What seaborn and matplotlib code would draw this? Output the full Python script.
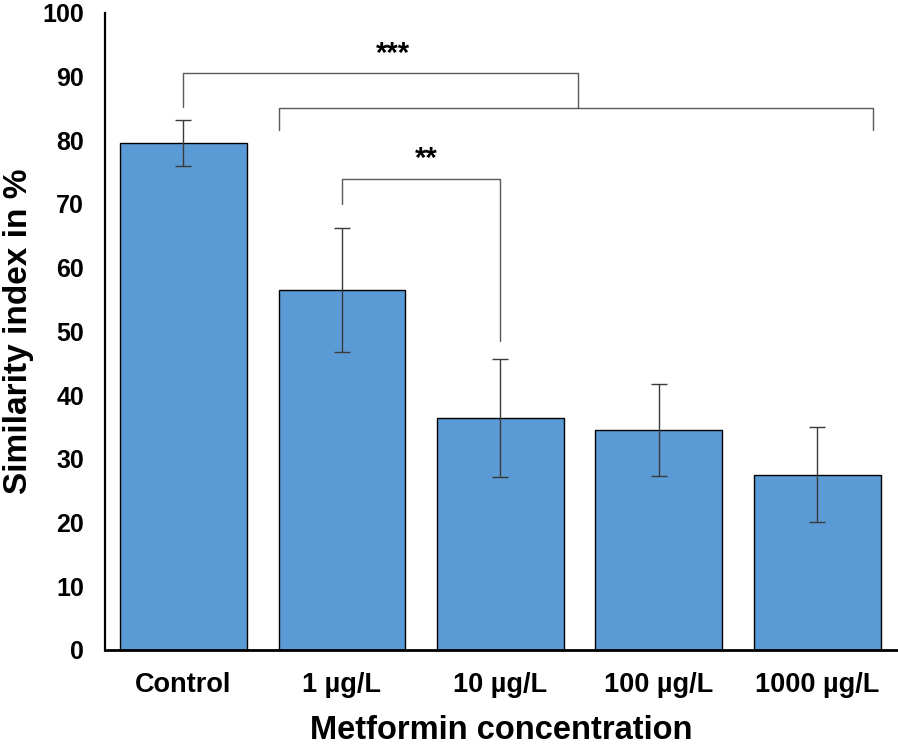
import numpy as np
import pandas as pd
import matplotlib
matplotlib.use("Agg")
import matplotlib.pyplot as plt
import seaborn as sns

# values
groups = ['Control', '1 µg/L', '10 µg/L', '100 µg/L', '1000 µg/L']
similarity = [79.5, 56.5, 36.4, 34.5, 27.5]
err = [3.6, 9.7, 9.3, 7.2, 7.5]

df = pd.DataFrame({'group': groups, 'similarity': similarity, 'err': err})

sns.set_style('white')
plt.rcParams['font.family'] = ['Liberation Sans', 'DejaVu Sans']
plt.rcParams['font.weight'] = 'bold'
plt.rcParams['text.color'] = 'black'
plt.rcParams['axes.labelcolor'] = 'black'
plt.rcParams['xtick.color'] = 'black'
plt.rcParams['ytick.color'] = 'black'

fig = plt.figure(figsize=(8.98, 7.47), dpi=100)
ax = fig.add_axes([0.117, 0.13, 0.883, 0.853])

sns.barplot(data=df, x='group', y='similarity', color='#5B9BD5', saturation=1,
            edgecolor='black', linewidth=1.0, width=0.8, errorbar=None, ax=ax)
ax.errorbar(np.arange(len(groups)), df['similarity'], yerr=df['err'], fmt='none',
            ecolor='#3a3a3a', elinewidth=1.0, capsize=6, capthick=1.0)

# significance brackets
lc = '#5a5a5a'
lw = 1.0
# *** : control vs all treatments
ax.plot([0, 0, 2.49, 2.49], [85.2, 90.6, 90.6, 85.1], color=lc, lw=lw)
ax.plot([0.6, 0.6, 4.35, 4.35], [81.6, 85.1, 85.1, 81.6], color=lc, lw=lw)
ax.text(1.32, 93.6, '***', ha='center', va='center', fontsize=21, fontweight='bold')
# ** : 1 vs 10
ax.plot([1, 1, 2, 2], [69.9, 73.9, 73.9, 48.4], color=lc, lw=lw)
ax.text(1.53, 77.0, '**', ha='center', va='center', fontsize=21, fontweight='bold')

ax.set_ylim(0, 100)
ax.set_xlim(-0.495, 4.51)
ax.set_yticks(range(0, 101, 10))
ax.tick_params(axis='y', length=0, pad=15, labelsize=18, labelcolor='black')
ax.tick_params(axis='x', length=0, pad=16, labelsize=19.5, labelcolor='black')
for lab in ax.get_xticklabels() + ax.get_yticklabels():
    lab.set_fontweight('bold')

ax.set_ylabel('Similarity index in %', fontsize=24, fontweight='bold', labelpad=6, color='black')
ax.set_xlabel('Metformin concentration', fontsize=23.5, fontweight='bold', labelpad=12, color='black')

sns.despine(ax=ax)
ax.spines['left'].set_linewidth(1.6)
ax.spines['bottom'].set_linewidth(2.0)
ax.spines['left'].set_color('black')
ax.spines['bottom'].set_color('black')

fig.savefig('out.png', dpi=100)
